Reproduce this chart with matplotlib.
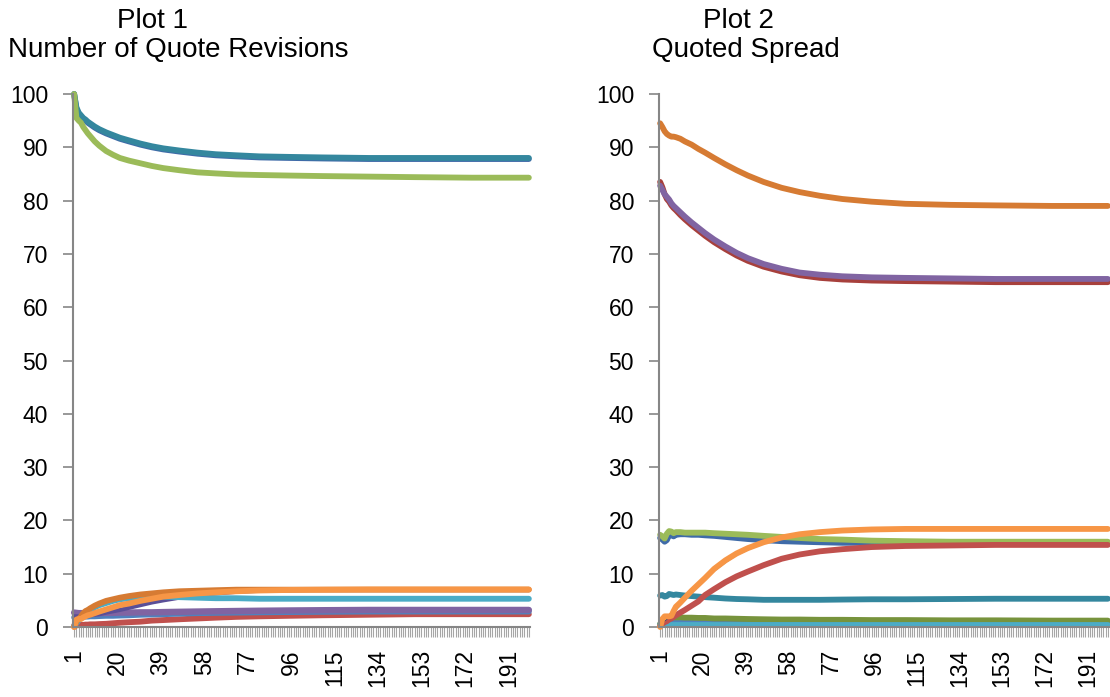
import matplotlib
matplotlib.use('Agg')
import matplotlib.pyplot as plt

plt.rcParams['font.family'] = ['Liberation Sans', 'DejaVu Sans']

n_periods = 200
steps = [1, 2, 3, 4, 5, 6, 7, 8, 10, 12, 15, 18, 21, 25, 30, 35, 40, 47, 55, 63,
         72, 82, 95, 110, 130, 150, 175, 200]
label_ticks = list(range(1, n_periods, 19))

# Plot 1: Number of Quote Revisions
p1_blue_top = [100, 97.2, 96.3, 95.8, 95.3, 95.0, 94.6, 94.3, 93.7, 93.2, 92.6, 92.1, 91.6, 91.1,
               90.5, 90.0, 89.6, 89.2, 88.8, 88.5, 88.3, 88.1, 88.0, 87.9, 87.8, 87.8, 87.8, 87.8]
p1_teal_top = [100, 97.5, 96.5, 96.0, 95.5, 95.2, 94.8, 94.5, 93.9, 93.4, 92.8, 92.3, 91.8, 91.3,
               90.7, 90.2, 89.8, 89.4, 89.0, 88.7, 88.5, 88.3, 88.2, 88.1, 88.0, 88.0, 88.0, 88.0]
p1_green_top = [100, 95.5, 95.0, 94.6, 93.8, 93.2, 92.6, 92.1, 91.1, 90.3, 89.3, 88.6, 88.0, 87.5,
                87.0, 86.5, 86.1, 85.7, 85.3, 85.1, 84.9, 84.8, 84.7, 84.6, 84.5, 84.4, 84.3, 84.3]
p1_red = [0.3, 0.3, 0.35, 0.4, 0.4, 0.45, 0.45, 0.5, 0.5, 0.55, 0.6, 0.7, 0.8, 0.9,
          1.0, 1.2, 1.3, 1.45, 1.6, 1.75, 1.9, 2.0, 2.1, 2.2, 2.3, 2.4, 2.4, 2.4]
p1_blue_low = [1.8, 1.8, 1.85, 1.9, 1.9, 1.95, 1.95, 2.0, 2.0, 2.05, 2.1, 2.1, 2.15, 2.2,
               2.3, 2.35, 2.4, 2.5, 2.6, 2.65, 2.7, 2.75, 2.8, 2.85, 2.9, 2.9, 2.9, 2.9]
p1_purple = [2.7, 2.65, 2.6, 2.6, 2.6, 2.6, 2.6, 2.6, 2.6, 2.6, 2.65, 2.65, 2.7, 2.7,
             2.75, 2.75, 2.8, 2.85, 2.9, 2.95, 3.0, 3.05, 3.1, 3.15, 3.2, 3.2, 3.2, 3.2]
p1_blue_mid = [2.0, 2.0, 2.0, 2.05, 2.1, 2.1, 2.15, 2.2, 2.3, 2.4, 2.7, 2.95, 3.2, 3.6,
               4.1, 4.6, 5.0, 5.5, 6.0, 6.3, 6.6, 6.8, 6.9, 7.0, 7.0, 7.0, 7.0, 7.0]
p1_aqua = [0.2, 0.7, 1.3, 1.9, 2.4, 2.8, 3.1, 3.4, 3.7, 4.1, 4.5, 4.9, 5.2, 5.4,
           5.6, 5.7, 5.7, 5.6, 5.5, 5.4, 5.4, 5.3, 5.3, 5.3, 5.3, 5.3, 5.3, 5.3]
p1_dorange = [0.0, 1.0, 1.5, 2.0, 2.6, 3.0, 3.2, 3.5, 4.0, 4.4, 4.9, 5.2, 5.5, 5.8,
              6.1, 6.3, 6.5, 6.7, 6.8, 6.9, 7.0, 7.0, 7.0, 7.0, 7.0, 7.0, 7.0, 7.0]
p1_orange = [0.0, 1.4, 1.5, 1.5, 1.8, 2.0, 2.2, 2.3, 2.6, 2.9, 3.3, 3.7, 4.1, 4.4,
             4.9, 5.3, 5.7, 6.0, 6.3, 6.5, 6.7, 6.85, 6.95, 7.0, 7.05, 7.05, 7.05, 7.05]

# Plot 2: Quoted Spread
p2_dorange = [94.5, 93.8, 93.0, 92.5, 92.2, 92.0, 92.0, 91.9, 91.6, 91.1, 90.5, 89.7, 89.0, 88.0,
              86.8, 85.7, 84.7, 83.5, 82.4, 81.6, 80.9, 80.3, 79.8, 79.4, 79.2, 79.1, 79.0, 79.0]
p2_red_top = [83.5, 82.5, 81.2, 80.3, 79.8, 79.1, 78.6, 78.2, 77.3, 76.5, 75.4, 74.4, 73.4, 72.2,
              70.9, 69.7, 68.7, 67.6, 66.7, 66.0, 65.5, 65.2, 65.0, 64.9, 64.8, 64.7, 64.7, 64.7]
p2_purple_top = [82.8, 82.0, 81.2, 80.7, 80.2, 79.5, 79.0, 78.6, 77.8, 77.0, 75.9, 74.9, 73.9, 72.7,
                 71.4, 70.2, 69.2, 68.1, 67.2, 66.5, 66.1, 65.8, 65.6, 65.5, 65.4, 65.3, 65.3, 65.3]
p2_blue = [16.7, 16.4, 16.0, 16.3, 17.3, 17.2, 17.0, 17.3, 17.4, 17.4, 17.3, 17.3, 17.2, 17.1,
           16.9, 16.7, 16.5, 16.3, 16.1, 16.0, 15.9, 15.8, 15.8, 15.8, 15.8, 15.8, 15.8, 15.8]
p2_green = [17.3, 17.0, 16.6, 17.5, 18.0, 17.9, 17.6, 17.8, 17.8, 17.7, 17.7, 17.7, 17.7, 17.6,
            17.5, 17.4, 17.3, 17.1, 16.9, 16.7, 16.5, 16.4, 16.2, 16.1, 16.0, 16.0, 16.0, 16.0]
p2_teal = [5.9, 6.0, 5.7, 5.8, 6.2, 6.1, 6.0, 6.1, 6.0, 5.9, 5.8, 5.7, 5.6, 5.5,
           5.35, 5.25, 5.2, 5.1, 5.1, 5.1, 5.1, 5.15, 5.2, 5.2, 5.25, 5.3, 5.3, 5.3]
p2_aqua = [0.35, 0.35, 0.35, 0.35, 0.35, 0.35, 0.35, 0.35, 0.35, 0.35, 0.35, 0.35, 0.35, 0.35,
           0.35, 0.35, 0.35, 0.35, 0.35, 0.35, 0.35, 0.35, 0.35, 0.35, 0.35, 0.35, 0.35, 0.35]
p2_blue_flat = [0.5, 0.8, 0.8, 0.8, 0.8, 0.8, 0.8, 0.8, 0.8, 0.8, 0.8, 0.8, 0.8, 0.8,
                0.8, 0.8, 0.8, 0.8, 0.8, 0.8, 0.8, 0.8, 0.8, 0.8, 0.8, 0.8, 0.8, 0.8]
p2_olive = [0.6, 1.2, 1.5, 1.7, 1.8, 1.8, 1.8, 1.8, 1.8, 1.75, 1.75, 1.7, 1.7, 1.6,
            1.6, 1.55, 1.5, 1.45, 1.4, 1.4, 1.35, 1.35, 1.3, 1.3, 1.25, 1.25, 1.2, 1.2]
p2_red = [0.2, 0.6, 0.9, 1.1, 1.4, 1.6, 1.9, 2.2, 2.7, 3.2, 4.0, 4.8, 6.0, 7.1,
          8.4, 9.5, 10.4, 11.6, 12.8, 13.6, 14.2, 14.6, 15.0, 15.2, 15.3, 15.4, 15.4, 15.4]
p2_dblue = [0.0, 0.8, 1.2, 1.5, 1.8, 2.2, 2.7, 3.2, 4.1, 5.0, 6.4, 7.7, 8.9, 10.5,
            12.1, 13.5, 14.5, 15.7, 16.6, 17.2, 17.7, 18.0, 18.2, 18.3, 18.3, 18.3, 18.3, 18.3]
p2_orange = [0.0, 1.5, 2.0, 2.0, 2.0, 2.1, 3.0, 3.8, 4.6, 5.5, 6.8, 8.0, 9.2, 10.9,
             12.5, 13.8, 14.8, 15.9, 16.8, 17.4, 17.8, 18.1, 18.3, 18.4, 18.4, 18.4, 18.4, 18.4]

plot1 = [
    (p1_blue_top, '#3F6BA8', 4.2),
    (p1_teal_top, '#34879E', 4.2),
    (p1_green_top, '#9BBB59', 4.2),
    (p1_red, '#C0504D', 4.2),
    (p1_blue_low, '#4F81BD', 4.2),
    (p1_purple, '#8064A2', 4.6),
    (p1_blue_mid, '#5A4F98', 3.0),
    (p1_aqua, '#4BACC6', 4.2),
    (p1_dorange, '#D67B33', 4.2),
    (p1_orange, '#F79646', 4.2),
]
plot2 = [
    (p2_dorange, '#D67B33', 4.2),
    (p2_red_top, '#A7403C', 4.2),
    (p2_purple_top, '#8064A2', 4.2),
    (p2_blue, '#3F6BA8', 4.2),
    (p2_green, '#9BBB59', 4.2),
    (p2_teal, '#34879E', 4.2),
    (p2_blue_flat, '#4F81BD', 4.2),
    (p2_olive, '#77933C', 4.2),
    (p2_aqua, '#4BACC6', 4.2),
    (p2_red, '#C0504D', 4.2),
    (p2_dblue, '#2C4D75', 1.0),
    (p2_orange, '#F79646', 4.2),
]

fig = plt.figure(figsize=(11.1, 6.97), dpi=100)
ax1 = fig.add_axes([73 / 1110, 1 - 627 / 697, 457 / 1110, 533 / 697])
ax2 = fig.add_axes([659 / 1110, 1 - 627 / 697, 450 / 1110, 533 / 697])

for ax, series in ((ax1, plot1), (ax2, plot2)):
    for values, color, lw in series:
        ax.plot(steps, values, color=color, lw=lw, solid_capstyle='round',
                solid_joinstyle='round', clip_on=False)
    ax.set_xlim(0.5, n_periods + 0.5)
    ax.set_ylim(0, 100)
    ax.set_yticks(range(0, 101, 10))
    ax.set_xticks(label_ticks)
    ax.set_xticks(range(1, n_periods + 1), minor=True)
    ax.set_xticklabels([str(t) for t in label_ticks], rotation=90, va='top')
    for side in ('top', 'right'):
        ax.spines[side].set_visible(False)
    for side in ('left', 'bottom'):
        ax.spines[side].set_color('#868686')
        ax.spines[side].set_linewidth(1.5)
    ax.tick_params(axis='y', length=7, width=1.2, color='#868686', labelsize=16.5, pad=11)
    ax.tick_params(axis='x', which='both', length=7, width=0.8, color='#a6a6a6',
                   labelsize=16.5, pad=9)

fig.text(117 / 1110, 1 - 28 / 697, 'Plot 1', fontsize=20, ha='left', va='baseline')
fig.text(8 / 1110, 1 - 57 / 697, 'Number of Quote Revisions', fontsize=20, ha='left', va='baseline')
fig.text(703 / 1110, 1 - 28 / 697, 'Plot 2', fontsize=20, ha='left', va='baseline')
fig.text(652 / 1110, 1 - 57 / 697, 'Quoted Spread', fontsize=20, ha='left', va='baseline')

fig.savefig('out.png', dpi=100)
